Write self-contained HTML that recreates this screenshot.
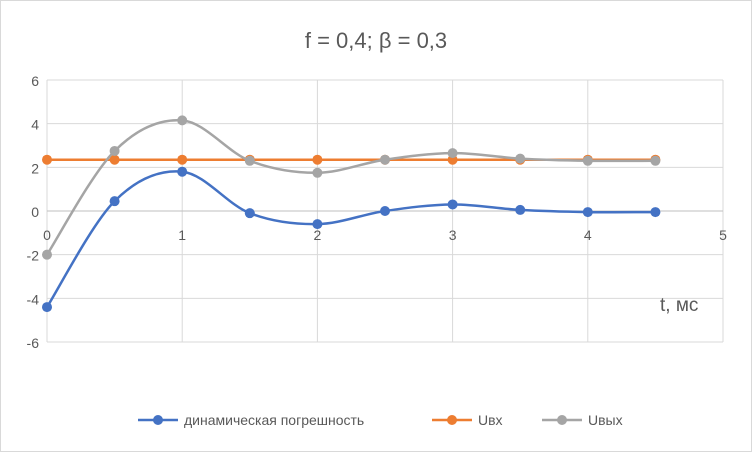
<!DOCTYPE html>
<html><head><meta charset="utf-8"><style>
html,body{margin:0;padding:0;background:#fff;}
svg{display:block;font-family:"Liberation Sans",Calibri,sans-serif;}
</style></head><body>
<svg id="chart" width="752" height="452" viewBox="0 0 752 452">
<rect x="0.5" y="0.5" width="751" height="451" fill="#fff" stroke="#d9d9d9"/>
<text x="376" y="48" text-anchor="middle" font-size="22" fill="#595959">f = 0,4; β = 0,3</text>
<g id="grid"></g><g id="axes"></g><g id="series"></g>
<text x="660" y="311" font-size="19" fill="#595959">t, мс</text>
<g>
<g><line x1="138" y1="420" x2="178" y2="420" stroke="#4472c4" stroke-width="2.5"/><circle cx="158" cy="420" r="5" fill="#4472c4"/><text x="184" y="425" font-size="14" fill="#595959">динамическая погрешность</text></g>
<g><line x1="432" y1="420" x2="472" y2="420" stroke="#ed7d31" stroke-width="2.5"/><circle cx="452" cy="420" r="5" fill="#ed7d31"/><text x="478" y="425" font-size="14" fill="#595959">Uвх</text></g>
<g><line x1="542" y1="420" x2="582" y2="420" stroke="#a5a5a5" stroke-width="2.5"/><circle cx="562" cy="420" r="5" fill="#a5a5a5"/><text x="588" y="425" font-size="14" fill="#595959">Uвых</text></g>
</g>
</svg>
<script>
const tValues=[0,0.5,1,1.5,2,2.5,3,3.5,4,4.5];
const errorValues=[-4.4,0.45,1.8,-0.1,-0.6,0.0,0.3,0.05,-0.05,-0.05];
const uinValues=[2.35,2.35,2.35,2.35,2.35,2.35,2.35,2.35,2.35,2.35];
const uoutValues=[-2.0,2.75,4.15,2.3,1.75,2.35,2.65,2.4,2.3,2.3];
const xTicks=[0,1,2,3,4,5];
const yTicks=[-6,-4,-2,0,2,4,6];
const NS="http://www.w3.org/2000/svg";
const X0=47,X1=723,Y0=342,Y1=80;
const xs=v=>X0+(v-0)/(5-0)*(X1-X0);
const ys=v=>Y0-(v+6)/12*(Y0-Y1);
function mk(tag,attrs,parent){const e=document.createElementNS(NS,tag);for(const k in attrs)e.setAttribute(k,attrs[k]);parent.appendChild(e);return e;}
const grid=document.getElementById('grid'),axes=document.getElementById('axes'),ser=document.getElementById('series');
yTicks.forEach(v=>{
 const l=mk('line',{x1:X0,x2:X1,y1:ys(v),y2:ys(v),stroke:'#d9d9d9'},grid);
 
 
 const t=mk('text',{x:X0-8,y:ys(v)+6,'text-anchor':'end','font-size':'14',fill:'#595959'},axes);
 t.textContent=v;
 
 
});
xTicks.forEach(v=>{
 const l=mk('line',{x1:xs(v),x2:xs(v),y1:Y1,y2:Y0,stroke:'#d9d9d9'},grid);
 
 
 const t=mk('text',{x:xs(v),y:ys(0)+29,'text-anchor':'middle','font-size':'14',fill:'#595959'},axes);
 t.textContent=v;
 
 
});
const ax=mk('line',{x1:X0,x2:X1,y1:ys(0),y2:ys(0),stroke:'#bfbfbf'},axes);


function smooth(pts){let d=`M${pts[0][0]},${pts[0][1]}`;const k=1/6;
 for(let i=0;i<pts.length-1;i++){const p0=pts[i-1]||pts[i],p1=pts[i],p2=pts[i+1],p3=pts[i+2]||p2;
  d+=` C${p1[0]+(p2[0]-p0[0])*k},${p1[1]+(p2[1]-p0[1])*k} ${p2[0]-(p3[0]-p1[0])*k},${p2[1]-(p3[1]-p1[1])*k} ${p2[0]},${p2[1]}`;}
 return d;}
function series(vals,color,name){
 const pts=tValues.map((t,i)=>[xs(t),ys(vals[i])]);
 const g=mk('g',{},ser);
 
 
 const p=mk('path',{d:smooth(pts),fill:'none',stroke:color,'stroke-width':'2.5'},g);
 
 
 pts.forEach(q=>{const c=mk('circle',{cx:q[0],cy:q[1],r:5,fill:color},g);
  
  });
}
series(uinValues,'#ed7d31','uin-series');
series(uoutValues,'#a5a5a5','uout-series');
series(errorValues,'#4472c4','error-series');
</script>
</body></html>
